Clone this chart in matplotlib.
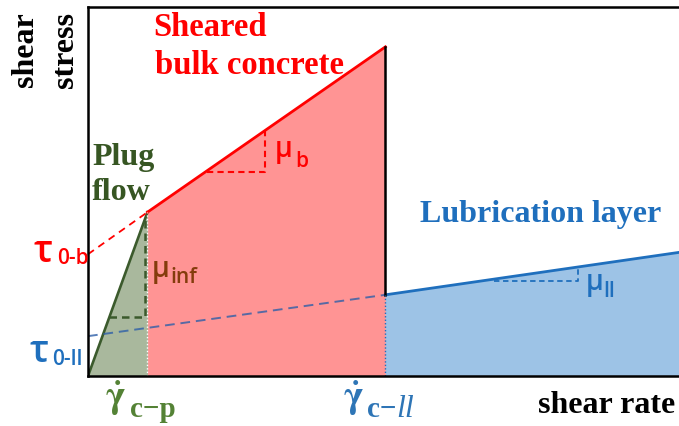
import matplotlib
matplotlib.use("Agg")
import matplotlib.pyplot as plt
import numpy as np

# shear rate (arbitrary units) at the plug / bulk and bulk / lubrication transitions
gamma_cp = 1.0
gamma_cll = 5.0
gamma_max = 9.85

# shear stress values (arbitrary units)
tau0_b = 3.3       # bulk yield stress (extrapolated)
tau0_ll = 1.08     # lubrication layer yield stress
tau_plug = 4.44    # stress at end of plug flow
tau_bulk_end = 8.92
tau_ll_start = 2.2
tau_ll_end = 3.33

W, H = 679, 426


def fx(x):
    return x / W


def fy(y):
    return 1 - y / H


fig = plt.figure(figsize=(W / 100, H / 100), dpi=100)
ax = fig.add_axes([fx(88), fy(376), (W - 88) / W + 0.01, (376 - 7) / H])
ax.set_xlim(0, gamma_max + 0.2)
ax.set_ylim(0, 10)
ax.set_xticks([])
ax.set_yticks([])
for s in ["left", "bottom", "top"]:
    ax.spines[s].set_linewidth(1.8)
    ax.spines[s].set_color("black")
ax.spines["right"].set_visible(False)

red = "#ff0000"
red_fill = "#ff9494"
green_line = "#3b5a2c"
green_fill = "#a9b89d"
blue = "#1f6fbd"
blue_fill = "#9dc3e6"
brown = "#843c0c"
olive = "#548235"

# plug flow region
xp = np.array([0, gamma_cp])
yp = np.array([0, tau_plug])
ax.fill_between(xp, 0, yp, color=green_fill, lw=0)
ax.plot(xp, yp, color=green_line, lw=1.9)

# sheared bulk concrete
xb = np.array([gamma_cp, gamma_cll])
yb = np.array([tau_plug, tau_bulk_end])
ax.fill_between(xb, 0, yb, color=red_fill, lw=0)
ax.plot(xb, yb, color=red, lw=2)
ax.plot([0, gamma_cp], [tau0_b, tau_plug], color=red, lw=1.3, ls=(0, (4, 3)))

# lubrication layer
xl = np.array([gamma_cll, gamma_max + 0.2])
slope_ll = (tau_ll_end - tau_ll_start) / (gamma_max - gamma_cll)
yl = tau_ll_start + slope_ll * (xl - gamma_cll)
ax.fill_between(xl, 0, yl, color=blue_fill, lw=0)
ax.plot(xl, yl, color=blue, lw=2)
ax.plot([0, gamma_cll], [tau0_ll, tau_ll_start], color="#2e5fa8", alpha=0.8,
        lw=1.4, ls=(0, (5, 3)))

# boundaries
ax.plot([gamma_cll, gamma_cll], [tau_ll_start, tau_bulk_end], color="black", lw=1.8)
ax.plot([gamma_cp, gamma_cp], [0, tau_plug], color="white", lw=1, ls=(0, (1, 1.5)))
ax.plot([gamma_cll, gamma_cll], [0, tau_ll_start], color=blue, lw=1, ls=(0, (1, 1.5)))

# slope triangles
slope_b = (tau_bulk_end - tau_plug) / (gamma_cll - gamma_cp)
bx0, bx1, by = 2.0, 2.98, 5.53
ax.plot([bx0, bx1, bx1], [by, by, tau_plug + slope_b * (bx1 - gamma_cp)],
        color=red, lw=1.5, ls=(0, (3, 2)))

slope_p = tau_plug / gamma_cp
py_ = 1.6
px1 = 0.95
ax.plot([py_ / slope_p, px1, px1], [py_, py_, slope_p * px1],
        color=green_line, lw=1.8, ls=(0, (3, 2)))

lx0, lx1 = 6.82, 8.23
ly = tau_ll_start + slope_ll * (lx0 - gamma_cll) - 0.06
ax.plot([lx0, lx1, lx1], [ly, ly, tau_ll_start + slope_ll * (lx1 - gamma_cll)],
        color=blue, lw=1.3, ls=(0, (3, 2)))

# text labels
serif = dict(family="Liberation Serif", weight="bold")
fig.text(fx(26), fy(50), "shear", rotation=90, ha="center", va="center",
         fontsize=23, color="black", **serif)
fig.text(fx(66), fy(50), "stress", rotation=90, ha="center", va="center",
         fontsize=23, color="black", **serif)
fig.text(fx(153), fy(36), "Sheared", fontsize=23.5, color=red, va="baseline", **serif)
fig.text(fx(155), fy(74), "bulk concrete", fontsize=23.5, color=red, va="baseline", **serif)
fig.text(fx(92), fy(165), "Plug", fontsize=23, color="#375623", va="baseline", **serif)
fig.text(fx(92), fy(200), "flow", fontsize=23, color="#375623", va="baseline", **serif)
fig.text(fx(420), fy(222), "Lubrication layer", fontsize=23, color=blue,
         va="baseline", **serif)
fig.text(fx(538), fy(413), "shear rate", fontsize=23, color="black",
         va="baseline", **serif)

sans = dict(family="Open Sans", weight="semibold")
fig.text(fx(34), fy(262), "τ", fontsize=27, color=red, va="baseline", **sans)
fig.text(fx(57), fy(264), "0-b", fontsize=15, color=red, va="baseline", **sans)
fig.text(fx(29), fy(362), "τ", fontsize=27, color=blue, va="baseline", **sans)
fig.text(fx(52), fy(365), "0-ll", fontsize=15, color=blue, va="baseline", **sans)

fig.text(fx(275), fy(157), "μ", fontsize=20, color=red, va="baseline", **sans)
fig.text(fx(295), fy(167), "b", fontsize=15, color=red, va="baseline", **sans)
fig.text(fx(152), fy(277), "μ", fontsize=20, color=brown, va="baseline", **sans)
fig.text(fx(170), fy(283), "inf", fontsize=15, color=brown, va="baseline", **sans)
fig.text(fx(586), fy(290), "μ", fontsize=20, color=blue, va="baseline", **sans)
fig.text(fx(603), fy(297), "ll", fontsize=15, color=blue, va="baseline", **sans)

# critical shear rates
fig.text(fx(105), fy(408), r"$\mathbf{\dot{\gamma}}$", fontsize=27,
         color=olive, va="baseline", math_fontfamily="stix")
fig.text(fx(130), fy(417), "c−p", fontsize=21, color=olive, va="baseline", **serif)
fig.text(fx(343), fy(408), r"$\mathbf{\dot{\gamma}}$", fontsize=27,
         color="#2e75b6", va="baseline", math_fontfamily="stix")
fig.text(fx(367), fy(417), "c−", fontsize=21, color="#2e75b6", va="baseline", **serif)
fig.text(fx(396), fy(417), "ll", fontsize=23, color="#2e75b6", va="baseline",
         family="Liberation Serif", style="italic")

fig.savefig("out.png", dpi=100)
